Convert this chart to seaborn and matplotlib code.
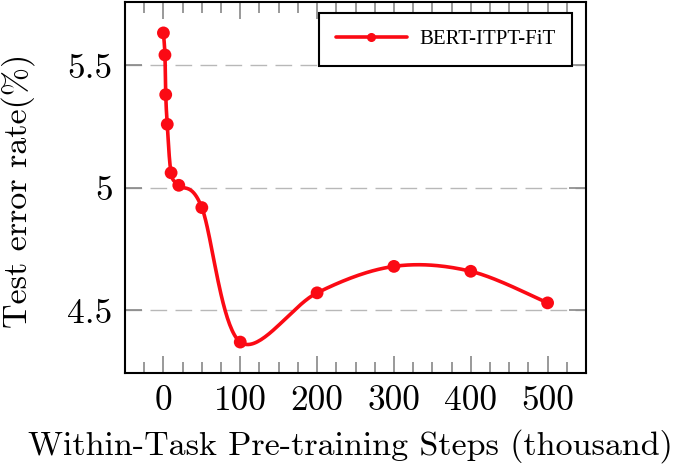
import numpy as np
import matplotlib
matplotlib.use("Agg")
import matplotlib.pyplot as plt
import seaborn as sns
from matplotlib.lines import Line2D

# data
steps = [0, 2, 3, 5, 10, 20, 50, 100, 200, 300, 400, 500]
error_rate = [5.633, 5.543, 5.381, 5.26, 5.062, 5.011, 4.92, 4.371, 4.572, 4.68, 4.66, 4.531]
x_ticks = [0, 100, 200, 300, 400, 500]
x_tick_labels = ["0", "100", "200", "300", "400", "500"]
y_ticks = [4.5, 5, 5.5]
y_tick_labels = ["4.5", "5", "5.5"]
series_name = "BERT-ITPT-FiT"


def smooth_curve(ax, xs, ys, k=0.165, n=40):
    # tikz-style smooth plot, computed in screen space
    pts = ax.transData.transform(np.column_stack([xs, ys]))
    ext = np.vstack([pts[0], pts, pts[-1]])
    t = np.linspace(0, 1, n)[:, None]
    out = []
    for i in range(len(pts) - 1):
        p0, p1, p2, p3 = ext[i], ext[i + 1], ext[i + 2], ext[i + 3]
        c1 = p1 + (p2 - p0) * k
        c2 = p2 - (p3 - p1) * k
        seg = (1 - t) ** 3 * p1 + 3 * (1 - t) ** 2 * t * c1 + 3 * (1 - t) * t ** 2 * c2 + t ** 3 * p2
        out.append(seg if i == 0 else seg[1:])
    out = ax.transData.inverted().transform(np.vstack(out))
    return out[:, 0], out[:, 1]


sns.set_theme(style="white")
plt.rcParams["font.family"] = ["cmr10", "DejaVu Serif"]
plt.rcParams["axes.unicode_minus"] = False
plt.rcParams["text.color"] = "black"
plt.rcParams["axes.labelcolor"] = "black"

fig = plt.figure(figsize=(6.75, 4.71), dpi=100)
ax = fig.add_axes([125 / 675, 98 / 471, 461 / 675, 371 / 471])

# pgfplots-like 10% enlargement of the limits
xspan = max(steps) - min(steps)
yspan = max(error_rate) - min(error_rate)
ax.set_xlim(min(steps) - 0.1 * xspan, max(steps) + 0.1 * xspan)
ax.set_ylim(min(error_rate) - 0.1 * yspan, max(error_rate) + 0.1 * yspan)

# grid
for yv in y_ticks:
    ax.axhline(yv, color="#b8b8b8", lw=1.0, dashes=(12, 6), zorder=0)

sx, sy = smooth_curve(ax, steps, error_rate)
sns.lineplot(x=sx, y=sy, sort=False, estimator=None, color="#fb0a14", lw=2.6, ax=ax, zorder=3)
sns.scatterplot(x=steps, y=error_rate, color="#fb0a14", s=85, edgecolor="none", ax=ax, zorder=4)

ax.set_xticks(x_ticks, labels=x_tick_labels)
ax.set_xticks(np.arange(-25, 550, 25), minor=True)
ax.set_yticks(y_ticks, labels=y_tick_labels)
ax.tick_params(axis="both", which="both", direction="in", colors="#888888",
               labelcolor="black", labelsize=25.5, width=1.2,
               top=True, right=True, left=True, bottom=True)
ax.tick_params(which="major", length=12, pad=9)
ax.tick_params(which="minor", length=8)
ax.tick_params(axis="y", which="minor", left=False, right=False)

for sp in ax.spines.values():
    sp.set_visible(True)
    sp.set_color("black")
    sp.set_linewidth(1.5)

ax.set_xlabel("Within-Task Pre-training Steps (thousand)", fontsize=24.5, color="black")
ax.set_ylabel("Test error rate(%)", fontsize=24.5, color="black")
ax.xaxis.set_label_coords(0.488, -0.152)
ax.yaxis.set_label_coords(-0.195, 0.49)

handle = Line2D([], [], color="#fb0a14", lw=2.6, marker="o", markersize=5.5)
leg = ax.legend([handle], [series_name], loc="upper right", bbox_to_anchor=(0.97, 0.97),
                borderaxespad=0, fancybox=False, edgecolor="black", framealpha=1,
                handlelength=3.4, handletextpad=0.6, borderpad=0.8,
                prop={"family": "Liberation Serif", "size": 15})
leg.get_frame().set_linewidth(1.5)

fig.savefig("out.png", dpi=100)
